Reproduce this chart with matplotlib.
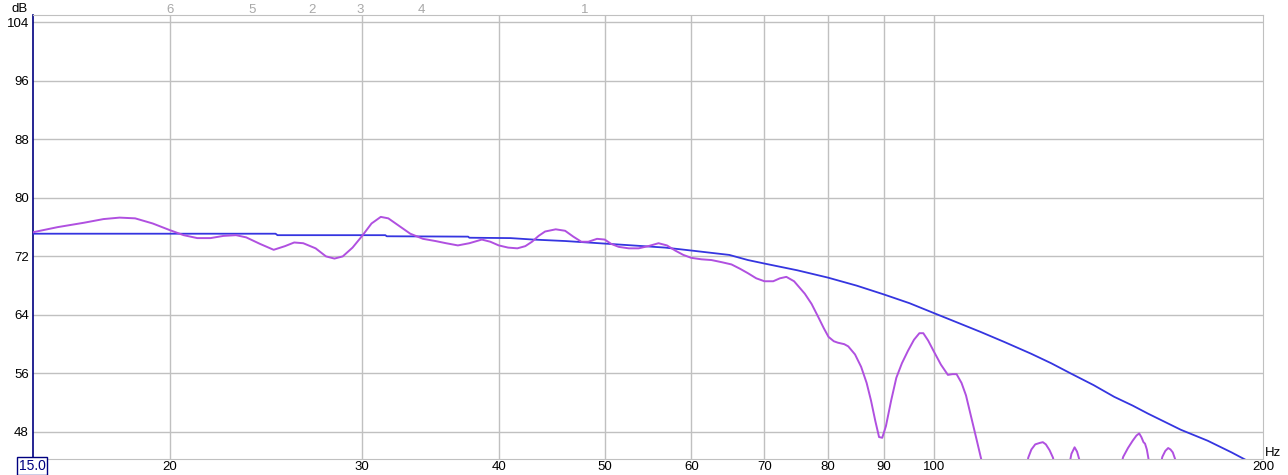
import matplotlib
matplotlib.use("Agg")
import matplotlib.pyplot as plt
import matplotlib.transforms as mtransforms

plt.rcParams["font.family"] = ["Liberation Sans", "DejaVu Sans"]

# measured response (Hz, dB)
meas_freq = [15.0, 15.8, 16.7, 17.4, 18.0, 18.6, 19.3, 20.0, 20.6, 21.2, 21.8, 22.4,
             23.0, 23.5, 24.2, 24.9, 25.5, 26.0, 26.5, 27.2, 27.8, 28.3, 28.8, 29.4,
             30.0, 30.6, 31.2, 31.7, 32.4, 33.2, 34.1, 35.0, 35.8, 36.7, 37.6, 38.6,
             39.3, 40.0, 40.8, 41.6, 42.3, 42.9, 43.5, 44.1, 45.1, 46.0, 46.8, 47.6,
             48.3, 49.2, 50.0, 50.7, 51.5, 52.6, 53.7, 54.8, 56.0, 57.0, 58.0, 59.0,
             60.0, 61.3, 62.6, 64.0, 65.3, 66.5, 67.6, 68.8, 70.0, 71.3, 72.3, 73.3,
             74.5, 75.4, 76.2, 77.3, 78.4, 79.3, 80.1, 81.0, 81.7, 82.8, 83.5, 84.7,
             85.8, 86.8, 87.6, 88.4, 89.1, 89.7, 90.4, 91.4, 92.4, 93.5, 94.7, 95.9,
             97.0, 97.8, 98.8, 100.0, 101.5, 103.0, 104.0, 104.9, 106.0, 107.0, 108.2,
             109.4, 110.6, 112.0,
             121.5, 122.0, 122.8, 123.8, 125.0, 125.8, 126.6, 127.6, 128.5, 129.2,
             133.0, 133.6, 134.5, 135.2, 135.8, 136.3,
             148.3, 149.0, 150.5, 152.0, 153.2, 154.1, 154.8, 155.5, 156.0, 156.6,
             157.2, 157.6,
             161.2, 161.8, 162.8, 163.8, 164.6, 165.4, 166.2, 166.6, 200.0]
meas_db = [75.3, 76.0, 76.6, 77.1, 77.3, 77.2, 76.5, 75.6, 74.9, 74.5, 74.5, 74.8,
           74.9, 74.6, 73.7, 72.9, 73.4, 73.9, 73.8, 73.1, 72.0, 71.7, 72.0, 73.2,
           74.8, 76.5, 77.4, 77.2, 76.2, 75.1, 74.4, 74.1, 73.8, 73.5, 73.8, 74.3,
           74.0, 73.5, 73.2, 73.1, 73.4, 74.0, 74.8, 75.4, 75.7, 75.5, 74.7, 74.0,
           74.0, 74.4, 74.3, 73.7, 73.3, 73.1, 73.1, 73.4, 73.8, 73.5, 72.8, 72.2,
           71.8, 71.6, 71.5, 71.2, 70.9, 70.3, 69.7, 69.0, 68.6, 68.6, 69.0, 69.2,
           68.6, 67.7, 66.9, 65.5, 63.7, 62.2, 61.0, 60.4, 60.2, 60.0, 59.7, 58.6,
           56.9, 54.7, 52.3, 49.5, 47.3, 47.2, 48.8, 52.3, 55.4, 57.4, 59.1, 60.6,
           61.5, 61.5, 60.5, 59.0, 57.2, 55.8, 55.9, 55.9, 54.7, 53.0, 50.0,
           47.0, 44.0, 40.0,
           43.0, 44.5, 45.6, 46.3, 46.5, 46.6, 46.3, 45.5, 44.5, 43.0,
           43.5, 45.0, 45.9, 45.3, 44.3, 43.0,
           43.5, 44.6, 45.8, 46.8, 47.5, 47.8, 47.3, 46.6, 46.4, 45.6,
           44.2, 43.0,
           43.5, 44.6, 45.4, 45.8, 45.6, 45.2, 44.3, 43.0, 40.0]

# target curve (Hz, dB)
target_freq = [15.0, 25.0, 25.1, 31.5, 31.6, 37.5, 37.6, 41.0, 43.0, 46.0, 49.4, 53.0,
               56.8, 60.0, 65.0, 67.6, 70.1, 75.0, 80.0, 85.0, 90.0, 95.0, 100.0,
               104.9, 110.4, 116.0, 122.7, 128.0, 133.4, 140.0, 146.2, 152.0, 157.0,
               162.0, 168.2, 178.0, 187.2, 195.0]
target_db = [75.1, 75.1, 74.9, 74.9, 74.75, 74.7, 74.55, 74.5, 74.3, 74.1, 73.8, 73.5,
             73.2, 72.8, 72.2, 71.5, 71.0, 70.1, 69.1, 68.0, 66.8, 65.6, 64.25,
             63.0, 61.66, 60.3, 58.7, 57.4, 56.0, 54.4, 52.8, 51.6, 50.5,
             49.5, 48.3, 46.8, 45.2, 43.8]

x_ticks = [20, 30, 40, 50, 60, 70, 80, 90, 100]
y_ticks = [48, 56, 64, 72, 80, 88, 96, 104]

# filter markers along the top
marker_freq = [20.0, 23.8, 27.0, 29.9, 34.0, 47.9]
marker_text = ["6", "5", "2", "3", "4", "1"]

fig = plt.figure(figsize=(12.88, 4.75), dpi=100)
ax = fig.add_axes([33 / 1288, 16 / 475, 1230 / 1288, 444 / 475])

ax.plot(target_freq, target_db, color="#3535e0", lw=1.3, zorder=3)
ax.plot(meas_freq, meas_db, color="#b050e0", lw=1.4, zorder=4)

ax.set_xscale("log")
ax.set_xlim(15, 200)
ax.set_ylim(44.3, 105)

ax.set_xticks(x_ticks + [200])
ax.set_xticklabels([str(v) for v in x_ticks] + ["200"])
ax.xaxis.set_minor_locator(plt.NullLocator())
ax.set_yticks(y_ticks)
ax.set_yticklabels([str(v) for v in y_ticks])
ax.tick_params(axis="both", length=0, labelsize=9.5, colors="black")
ax.tick_params(axis="x", pad=1.5)
ax.tick_params(axis="y", pad=3)

for v in x_ticks:
    ax.axvline(v, color="#c0c0c0", lw=1, zorder=1)
for v in y_ticks:
    ax.axhline(v, color="#c0c0c0", lw=1, zorder=1)

for side in ["top", "right", "bottom"]:
    ax.spines[side].set_color("#c0c0c0")
ax.spines["left"].set_color("#000080")
ax.spines["left"].set_linewidth(1.2)

trans = mtransforms.blended_transform_factory(ax.transData, ax.transAxes)
for f, t in zip(marker_freq, marker_text):
    ax.text(f, 1 + 5 / 444, t, transform=trans, ha="center", va="center",
            fontsize=9.5, color="#a8a8a8")

# start frequency box, lower-left
fig.text(32 / 1288, 1 - 466 / 475, "15.0", ha="center", va="center", fontsize=10,
         color="#000080",
         bbox=dict(boxstyle="square,pad=0.12", fc="white", ec="#000080", lw=1))
fig.text(20 / 1288, 1 - 9 / 475, "dB", ha="center", va="center", fontsize=9.5)
fig.text(1265 / 1288, 1 - 453 / 475, "Hz", ha="left", va="center", fontsize=9.5)

fig.savefig("out.png", dpi=100)
